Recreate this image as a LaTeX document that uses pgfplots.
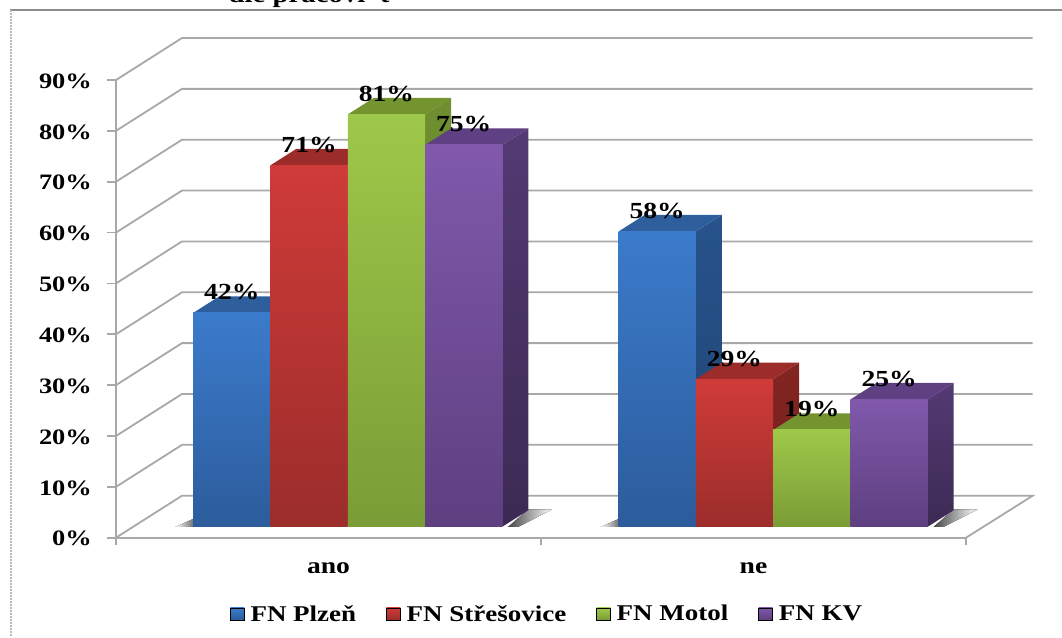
\documentclass[border=0pt]{standalone}
\usepackage{pgfplots}
\pgfplotsset{compat=1.18}
\usepackage{fontspec}
\setmainfont[FakeStretch=1.2]{Liberation Serif}

% Face colours of the four hospital series
\definecolor{plzenFt}{HTML}{3B7BCB}\definecolor{plzenFb}{HTML}{2C5C9C}
\definecolor{plzenSt}{HTML}{27538C}\definecolor{plzenSb}{HTML}{1F4370}
\definecolor{plzenT}{HTML}{2E5F9C}
\definecolor{stresFt}{HTML}{CF3B38}\definecolor{stresFb}{HTML}{9B2D2B}
\definecolor{stresSt}{HTML}{842522}\definecolor{stresSb}{HTML}{6E1E1C}
\definecolor{stresT}{HTML}{9C2C29}
\definecolor{motolFt}{HTML}{9EC849}\definecolor{motolFb}{HTML}{7A9C36}
\definecolor{motolSt}{HTML}{6F8F30}\definecolor{motolSb}{HTML}{5F7B28}
\definecolor{motolT}{HTML}{73942F}
\definecolor{kvFt}{HTML}{8059AB}\definecolor{kvFb}{HTML}{5E3F80}
\definecolor{kvSt}{HTML}{533A73}\definecolor{kvSb}{HTML}{3C2A54}
\definecolor{kvT}{HTML}{5F4082}
\definecolor{wall}{HTML}{A8A8A8}

% One solid bar: group, offset inside the group, value, series prefix
\newcommand{\solidbar}[4]{%
  \pgfmathsetmacro\xc{#1+#2}%
  \pgfmathsetmacro\xl{#1+#2-0.09085}%
  \pgfmathsetmacro\xr{#1+#2+0.09085}%
  \pgfmathsetmacro\xlb{#1+#2-0.09085+0.0611}%
  \pgfmathsetmacro\xrb{#1+#2+0.09085+0.0611}%
  \pgfmathsetmacro\yb{#3+3.242}%
  \addplot[draw=none, top color=#4St, bottom color=#4Sb]
    coordinates {(\xr,0)(\xrb,3.242)(\xrb,\yb)(\xr,#3)} --cycle;
  \addplot[draw=none, fill=#4T]
    coordinates {(\xl,#3)(\xlb,\yb)(\xrb,\yb)(\xr,#3)} --cycle;
  \addplot[ybar, bar width=77.3pt, bar shift=0pt, draw=none,
           top color=#4Ft, bottom color=#4Fb]
    coordinates {(\xc,#3)};
}

\begin{document}
\begin{tikzpicture}[x=1pt,y=1pt]
\path[use as bounding box] (0,0) rectangle (1062,637);
\fill[white] (0,0) rectangle (1062,637);

% Outer chart frame and the heading above it
\draw[color=gray!90, line width=1.6pt] (10,627) -- (1062,627);
\draw[color=gray!55, line width=2pt, densely dotted] (10.5,627) -- (10.5,0);
\node[anchor=base, font=\fontsize{24}{26}\selectfont\bfseries, inner sep=0pt]
  at (309,634) {dle pracovi\ \ t};

% Walls, floor and scales
\begin{axis}[
  at={(116pt,99.3pt)}, anchor=south west,
  scale only axis, width=850pt, height=457.7pt,
  xmin=-0.5, xmax=1.5, ymin=0, ymax=90,
  clip=false,
  axis x line*=bottom, axis y line*=left,
  axis line style={color=wall, line width=1.8pt, -},
  /pgf/number format/assume math mode=true,
  ytick={0,10,...,90},
  yticklabel={\pgfmathprintnumber{\tick}\%},
  yticklabel style={font=\fontsize{22}{24}\selectfont\bfseries, inner sep=0pt, xshift=-15pt, yshift=-1pt},
  ytick style={color=wall, line width=1.8pt},
  xtick={0,1}, xticklabels={ano,ne},
  xticklabel style={font=\fontsize{23}{25}\selectfont\bfseries, yshift=-12pt},
  major x tick style={draw=none},
  minor xtick={-0.5,0.5,1.5},
  minor x tick style={color=wall, line width=1.8pt},
  tick align=outside, major tick length=9pt, minor tick length=7pt,
  legend columns=4,
  legend cell align=left,
  legend style={at={(axis description cs:0.134,-0.1665)}, anchor=west,
    draw=none, fill=none, inner sep=0pt,
    font=\fontsize{22.5}{24}\selectfont\bfseries,
    /tikz/every even column/.append style={column sep=28pt},
    /tikz/every odd column/.append style={column sep=4pt}},
  legend image code/.code={\fill[#1] (0pt,-6pt) rectangle (14pt,6pt);},
]
\addlegendimage{top color=plzenFt, bottom color=plzenFb}
\addlegendimage{top color=stresFt, bottom color=stresFb}
\addlegendimage{top color=motolFt, bottom color=motolFb}
\addlegendimage{top color=kvFt, bottom color=kvFb}
\legend{FN Plzeň,FN Střešovice,FN Motol,FN KV}

\addplot[forget plot, color=wall, line width=1.8pt]
  coordinates {(-0.5,0)(-0.3447,8.26)(1.657,8.26)(1.5,0)};
\addplot[forget plot, color=wall, line width=1.8pt] coordinates {(-0.5,10)(-0.3447,18.26)(1.657,18.26)};
\addplot[forget plot, color=wall, line width=1.8pt] coordinates {(-0.5,20)(-0.3447,28.26)(1.657,28.26)};
\addplot[forget plot, color=wall, line width=1.8pt] coordinates {(-0.5,30)(-0.3447,38.26)(1.657,38.26)};
\addplot[forget plot, color=wall, line width=1.8pt] coordinates {(-0.5,40)(-0.3447,48.26)(1.657,48.26)};
\addplot[forget plot, color=wall, line width=1.8pt] coordinates {(-0.5,50)(-0.3447,58.26)(1.657,58.26)};
\addplot[forget plot, color=wall, line width=1.8pt] coordinates {(-0.5,60)(-0.3447,68.26)(1.657,68.26)};
\addplot[forget plot, color=wall, line width=1.8pt] coordinates {(-0.5,70)(-0.3447,78.26)(1.657,78.26)};
\addplot[forget plot, color=wall, line width=1.8pt] coordinates {(-0.5,80)(-0.3447,88.26)(1.657,88.26)};
\addplot[forget plot, color=wall, line width=1.8pt] coordinates {(-0.5,90)(-0.3447,98.26)(1.657,98.26)};
\end{axis}

% Soft shadows the bars cast on the floor
\foreach \dx in {0,425.5} {
  \fill[left color=white, right color=black!55] (175+\dx,110) -- (193+\dx,110) -- (193+\dx,118) -- cycle;
  \fill[left color=black!72, right color=white] (508+\dx,110) -- (518+\dx,110) -- (552+\dx,127.5) -- (528+\dx,127.5) -- cycle;
}

% The bars themselves
\begin{axis}[
  at={(135.05pt,110.3pt)}, anchor=south west,
  scale only axis, width=850.8pt, height=458.1pt,
  xmin=-0.5, xmax=1.5, ymin=0, ymax=90,
  hide axis, clip=false,
  /pgf/number format/assume math mode=true,
]
\solidbar{0}{-0.27255}{42}{plzen}
\solidbar{0}{-0.0909}{71}{stres}
\solidbar{0}{0.0909}{81}{motol}
\solidbar{0}{0.27255}{75}{kv}
\solidbar{1}{-0.27255}{58}{plzen}
\solidbar{1}{-0.0909}{29}{stres}
\solidbar{1}{0.0909}{19}{motol}
\solidbar{1}{0.27255}{25}{kv}
\addplot[draw=none, mark=none, point meta=y,
  nodes near coords={\pgfmathprintnumber{\pgfplotspointmeta}\%},
  every node near coord/.style={anchor=center, yshift=20.5pt, inner sep=0pt,
    font=\fontsize{23}{25}\selectfont\bfseries, text=black}]
  coordinates {(-0.27255,42)(-0.0909,71)(0.0909,81)(0.27255,75)
               (0.72745,58)(0.9091,29)(1.0909,19)(1.27255,25)};
\end{axis}
\end{tikzpicture}
\end{document}
